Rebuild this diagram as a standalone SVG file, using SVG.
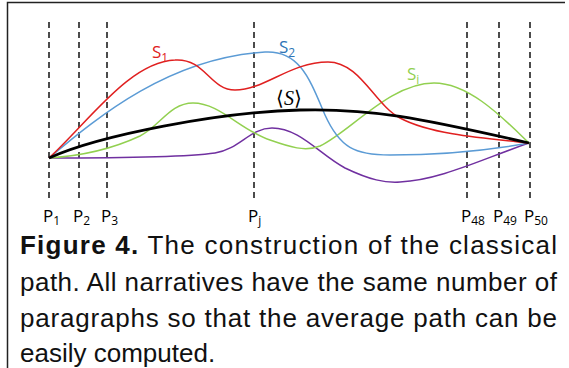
<svg xmlns="http://www.w3.org/2000/svg" width="569" height="368" viewBox="0 0 569 368">
<style>
.frame{fill:none;stroke:#222;stroke-width:1.5}
.guide{stroke:#111;stroke-width:1.5;stroke-dasharray:6,4}
.curve{fill:none;stroke-width:1.5}
.lbl{font-family:"Open Sans","Noto Sans","Liberation Sans",sans-serif;font-size:17px}
.sub{font-size:12px}
.cap{font-family:"Liberation Sans",Arial,sans-serif;font-size:26px;fill:#111}
</style>
<rect width="569" height="368" fill="#fff"/>
<path class="frame" d="M7.5,370 V2.5 H565"/>
<g id="guides">
<line class="guide" x1="49" y1="22" x2="49" y2="200"/>
<line class="guide" x1="79" y1="22" x2="79" y2="200"/>
<line class="guide" x1="107" y1="22" x2="107" y2="200"/>
<line class="guide" x1="254" y1="22" x2="254" y2="200"/>
<line class="guide" x1="467" y1="22" x2="467" y2="200"/>
<line class="guide" x1="499" y1="22" x2="499" y2="200"/>
<line class="guide" x1="530" y1="22" x2="530" y2="200"/>
</g>
<g id="connectors">
<path id="purple" class="curve" stroke="#7030a0" d="M49,158 C100,158 180,158 215,153 C240,149 250,128 272,128 C300,128 320,155 345,168 C370,180 385,183 400,182 C440,180 480,160 529,143"/>
<path id="green" class="curve" stroke="#92d050" d="M49,158 C80,156 110,150 140,136 C160,126 170,103 193,103 C220,103 240,130 270,140 C290,147 305,152 320,146 C350,132 390,83 434,83 C470,83 505,120 529,143"/>
<path id="blue" class="curve" stroke="#5b9bd5" d="M49,158 C100,115 170,58 265,52 C300,50 310,80 325,115 C340,148 355,155 390,155 C440,155 490,150 529,143"/>
<path id="red" class="curve" stroke="#e02020" d="M49,158 C90,120 130,62 175,60 C205,58 210,90 235,90 C265,90 290,62 328,62 C360,62 375,105 400,118 C430,134 480,138 529,143"/>
<path id="mean" fill="none" stroke="#000" stroke-width="2.8" d="M49,158 C100,135 220,112 300,110 C370,108 420,118 529,143"/>
</g>
<g id="labels" class="lbl">
<text x="43" y="222">P<tspan class="sub" dy="3">1</tspan></text>
<text x="73" y="222">P<tspan class="sub" dy="3">2</tspan></text>
<text x="101" y="222">P<tspan class="sub" dy="3">3</tspan></text>
<text x="248" y="222">P<tspan class="sub" dy="3">j</tspan></text>
<text x="461" y="222">P<tspan class="sub" dy="3">48</tspan></text>
<text x="493" y="222">P<tspan class="sub" dy="3">49</tspan></text>
<text x="524" y="222">P<tspan class="sub" dy="3">50</tspan></text>
<text x="152" y="58" fill="#e02020">S<tspan class="sub" dy="4">1</tspan></text>
<text x="279" y="53" fill="#2e75b6">S<tspan class="sub" dy="4">2</tspan></text>
<text x="407" y="80" fill="#92d050">S<tspan class="sub" dy="4">i</tspan></text>
<text x="276" y="105" font-family="'Liberation Serif',serif" font-size="20">⟨<tspan font-style="italic">S</tspan>⟩</text>
</g>
<g id="caption" class="cap">
<text x="20" y="254" textLength="537" lengthAdjust="spacing"><tspan font-weight="bold">Figure 4.</tspan> The construction of the classical</text>
<text x="20" y="291" textLength="537" lengthAdjust="spacing">path. All narratives have the same number of</text>
<text x="20" y="327" textLength="537" lengthAdjust="spacing">paragraphs so that the average path can be</text>
<text x="20" y="362">easily computed.</text>
</g>
</svg>
